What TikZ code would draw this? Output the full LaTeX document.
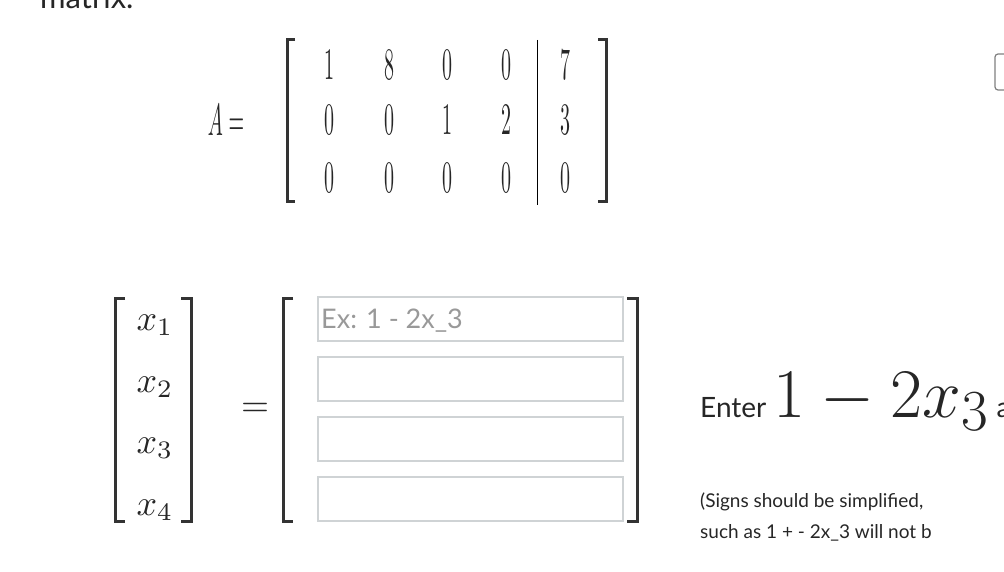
\documentclass[tikz,border=0pt]{standalone}
\usepackage{fontspec}
\setsansfont{Lato}
\newcommand\mq[1]{\scalebox{2.0}[4.5]{$#1$}}
\newcommand\mv[1]{\scalebox{3.6}{$#1$}}
\begin{document}
\begin{tikzpicture}[x=1pt,y=-1pt,
  br/.style={line width=3pt,color=black!80},
  ent/.style={anchor=center,text=black!85,inner sep=0pt},
  inbox/.style={draw=black!15!cyan!10!gray!40,line width=1.5pt,minimum width=305pt,minimum height=44pt,anchor=north west,inner sep=0pt},
  sf/.style={font=\sffamily\fontsize{#1}{#1}\selectfont,anchor=base west,inner sep=0pt,text=black!85}]
\useasboundingbox (0,0) rectangle (1004,572);
\begin{scope}
\clip (0,0) rectangle (1004,572);
\node[sf=31] (top) at (40,9) {matrix.};
\draw[line width=1.2pt,gray,rounded corners=3pt] (1004,54) -- (995,54) -- (995,90) -- (1004,90);
\end{scope}
% A matrix
\node[ent] (A) at (226,120) {\mq{A=}};
\draw[br] (295,40) -- (287,40) -- (287,202) -- (295,202);
\draw[br] (598,40) -- (606,40) -- (606,202) -- (598,202);
\draw[line width=0.8pt] (537,40) -- (537,205);
\foreach \r/\y/\a/\b/\c/\d/\e in {1/65/1/8/0/0/7, 2/120/0/0/1/2/3, 3/178/0/0/0/0/0}{
  \node[ent] (m\r a) at (329,\y) {\mq{\a}};
  \node[ent] (m\r b) at (389,\y) {\mq{\b}};
  \node[ent] (m\r c) at (447,\y) {\mq{\c}};
  \node[ent] (m\r d) at (506,\y) {\mq{\d}};
  \node[ent] (m\r e) at (565,\y) {\mq{\e}};
}
% x vector
\draw[br] (125,298) -- (115,298) -- (115,521) -- (125,521);
\draw[br] (181,298) -- (191,298) -- (191,521) -- (181,521);
\foreach \i/\y in {1/325,2/387,3/448,4/510}{
  \node[ent] (x\i) at (155,\y) {\mv{x_{\i}}};
}
\node[ent] (eq) at (255,410) {\mv{=}};
\draw[br] (293,298) -- (283,298) -- (283,521) -- (293,521);
\draw[br] (627,298) -- (637,298) -- (637,521) -- (627,521);
\foreach \i/\y in {1/296,2/356,3/416,4/476}{
  \node[inbox] (b\i) at (317,\y) {};
}
\node[sf=27,text=black!40] (ph) at (321,328) {Ex: 1 - 2x\_3};
\node[sf=28] (enter) at (700,417) {Enter \scalebox{2.8}{$1-2x_3$} as:};
\node[sf=19] (n1) at (700,507) {(Signs should be simplified,};
\node[sf=19] (n2) at (700,538) {such as 1 + - 2x\_3 will not b};
\end{tikzpicture}
\end{document}
